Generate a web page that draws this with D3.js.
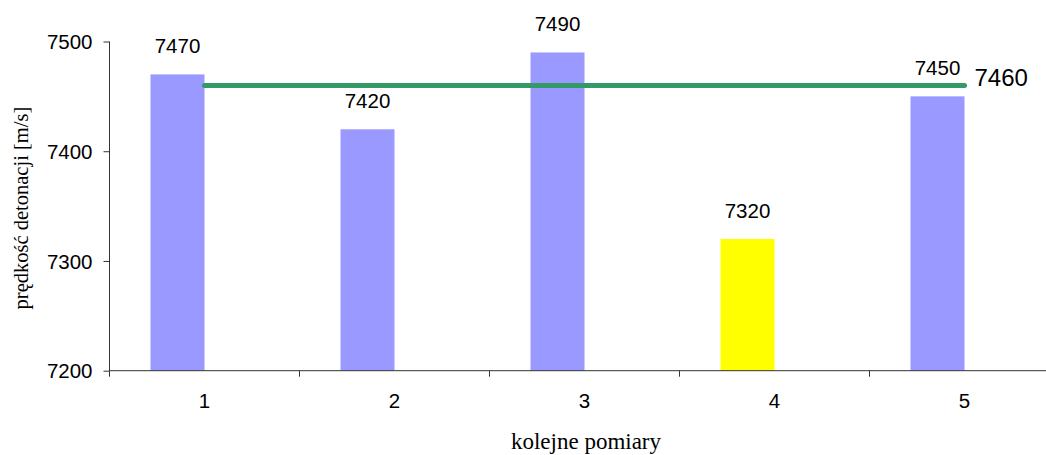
<!DOCTYPE html>
<html>
<head>
<meta charset="utf-8">
<script src="https://cdn.jsdelivr.net/npm/d3@7"></script>
<style>
  body { margin: 0; background: #fff; }
  svg { display: block; }
</style>
</head>
<body>
<svg id="chart" width="1046" height="455"></svg>
<script>
const categories = ["1", "2", "3", "4", "5"];
const values = [7470, 7420, 7490, 7320, 7450];
const highlight = [false, false, false, true, false];
const meanValue = 7460;
const yTicks = [7200, 7300, 7400, 7500];
const yTitle = "prędkość detonacji [m/s]";
const xTitle = "kolejne pomiary";

const svg = d3.select("#chart");
const x0 = 109.5, x1 = 1059.5, yTop = 41.5, yBot = 370.7;

const x = d3.scaleBand().domain(categories).range([x0, x1]).paddingInner(0).paddingOuter(0);
const y = d3.scaleLinear().domain([7200, 7500]).range([yBot, yTop]);
const bw = x.bandwidth();
const barOff = bw * 41 / 190, barW = bw * 54 / 190;

const data = categories.map((c, i) => ({ c, v: values[i], h: highlight[i] }));

// bars
svg.append("g").selectAll("rect").data(data).join("rect")
  .attr("x", d => x(d.c) + barOff)
  .attr("y", d => y(d.v))
  .attr("width", barW)
  .attr("height", d => y(7200) - y(d.v))
  .attr("fill", d => d.h ? "#ffff00" : "#9999ff");

// bar labels
svg.append("g").selectAll("text").data(data).join("text")
  .attr("x", d => x(d.c) + barOff + barW / 2)
  .attr("y", d => y(d.v) - 21)
  .attr("text-anchor", "middle")
  .attr("font-family", "Liberation Sans, Arial, sans-serif")
  .attr("font-size", 20.5)
  .attr("fill", "#000")
  .text(d => d.v);

// y axis
const yAxis = d3.axisLeft(y).tickValues(yTicks).tickSize(6).tickPadding(11).tickFormat(d3.format("d"));
const gy = svg.append("g").attr("transform", `translate(${x0},0)`).call(yAxis);
gy.select(".domain").attr("stroke", "#333").attr("d", `M-0,${yBot}V${yTop}`);
gy.selectAll(".tick line").attr("stroke", "#333");
gy.selectAll(".tick text").attr("font-family", "Liberation Sans, Arial, sans-serif")
  .attr("font-size", 20.5).attr("fill", "#000").attr("dy", "0.35em");

// x axis
const xTickScale = d3.scaleLinear().domain([0, categories.length]).range([x0, x1]);
const gx = svg.append("g").attr("transform", `translate(0,${yBot})`);
gx.append("line").attr("x1", x0).attr("x2", x1).attr("y1", 0).attr("y2", 0).attr("stroke", "#333");
gx.selectAll("line.t").data(d3.range(categories.length + 1)).join("line").attr("class", "t")
  .attr("x1", d => xTickScale(d)).attr("x2", d => xTickScale(d))
  .attr("y1", 0).attr("y2", 6).attr("stroke", "#333");
gx.selectAll("text").data(categories).join("text")
  .attr("x", d => x(d) + bw / 2)
  .attr("y", 37.5)
  .attr("text-anchor", "middle")
  .attr("font-family", "Liberation Sans, Arial, sans-serif")
  .attr("font-size", 20.5)
  .attr("fill", "#000")
  .text(d => d);

// mean line
const lineData = categories.map(c => ({ c, v: meanValue }));
svg.append("path").datum(lineData)
  .attr("d", d3.line().x(d => x(d.c) + bw / 2).y(d => y(d.v)))
  .attr("fill", "none").attr("stroke", "#339966")
  .attr("stroke-width", 5).attr("stroke-linecap", "round");
svg.append("text")
  .attr("x", x(categories[categories.length - 1]) + bw / 2 + 10)
  .attr("y", y(meanValue) + 1)
  .attr("font-family", "Liberation Sans, Arial, sans-serif")
  .attr("font-size", 24)
  .attr("fill", "#000")
  .text(meanValue);

// titles
svg.append("text")
  .attr("transform", `translate(28,${(yTop + yBot) / 2 + 2}) rotate(-90)`)
  .attr("text-anchor", "middle")
  .attr("font-family", "Liberation Serif, Times New Roman, serif")
  .attr("font-size", 20.5)
  .attr("fill", "#000")
  .text(yTitle);
svg.append("text")
  .attr("x", 586)
  .attr("y", 449)
  .attr("text-anchor", "middle")
  .attr("font-family", "Liberation Serif, Times New Roman, serif")
  .attr("font-size", 23)
  .attr("fill", "#000")
  .text(xTitle);
</script>
</body>
</html>
